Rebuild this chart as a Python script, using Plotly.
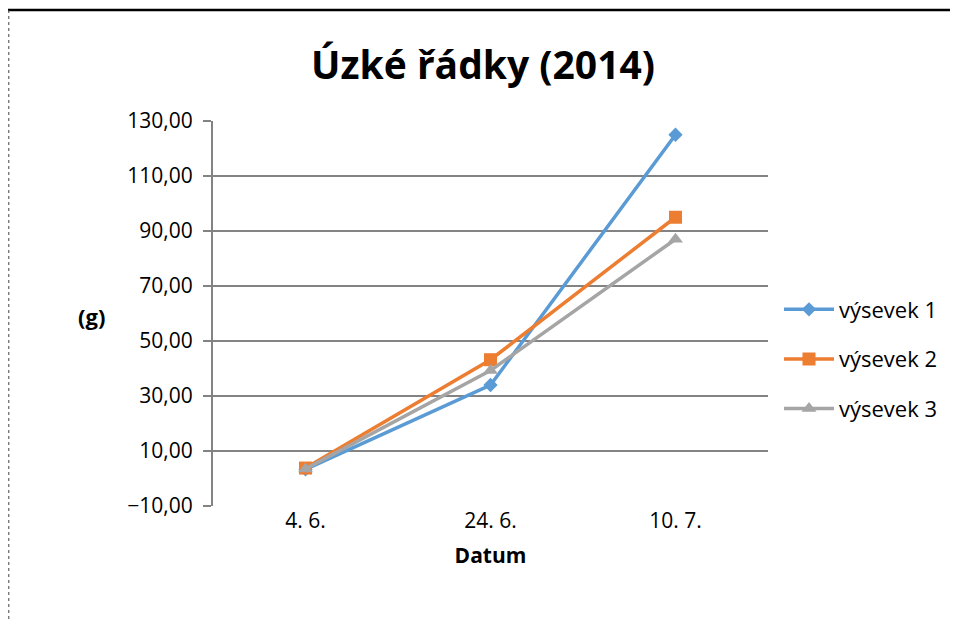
import plotly.graph_objects as go

categories = ["4. 6.", "24. 6.", "10. 7."]
series_names = ["výsevek 1", "výsevek 2", "výsevek 3"]
vysevek1 = [3.3, 34.0, 125.0]
vysevek2 = [3.8, 43.2, 95.0]
vysevek3 = [3.5, 39.3, 87.0]
colors = ["#5B9BD5", "#ED7D31", "#A5A5A5"]
symbols = ["diamond", "square", "triangle-up"]
msizes = [11, 13, 13]

OFF = 8  # page body margin
W, H = 958 - OFF, 619 - OFF
L, T = 213 - OFF, 121 - OFF
pw, ph = 555, 385
R, B = W - L - pw, H - T - ph

def px(x):
    return (x - OFF - L) / pw

def py(y):
    return (H - B - (y - OFF)) / ph

fig = go.Figure()
for i, (name, vals) in enumerate(zip(series_names, [vysevek1, vysevek2, vysevek3])):
    fig.add_trace(go.Scatter(
        x=categories, y=vals, name=name, mode="lines+markers",
        line=dict(color=colors[i], width=3.5),
        marker=dict(symbol=symbols[i], size=msizes[i], color=colors[i]),
        legendgroup=name,
    ))

fig.update_layout(
    width=W, height=H,
    margin=dict(l=L, r=R, t=T, b=B),
    paper_bgcolor="white", plot_bgcolor="white",
    separators=", ",
    font=dict(family="Open Sans, Liberation Sans, sans-serif", size=21, color="#000"),
    title=dict(text="<b>Úzké řádky (2014)</b>", x=0.5, xanchor="center",
               y=1 - (65 - OFF) / H, yanchor="middle",
               font=dict(size=39, family="Open Sans, sans-serif", color="#000")),
    legend=dict(x=px(779), xanchor="left", y=py(359), yanchor="middle",
                traceorder="grouped", tracegroupgap=18,
                font=dict(size=22), itemwidth=50),
    xaxis=dict(showgrid=False, showline=False, ticks="", range=[-0.5, 2.5],
               title=dict(text="<b>Datum</b>", font=dict(size=21), standoff=15),
               tickfont=dict(size=21)),
    yaxis=dict(range=[-10, 130], tick0=-10, dtick=20, tickformat=".2f",
               showgrid=True, gridcolor="#838383", gridwidth=1.5,
               showline=True, linecolor="#838383", linewidth=2.2,
               ticks="outside", ticklen=8, tickcolor="#838383", tickwidth=1.5,
               ticklabelstandoff=6,
               zeroline=False, tickfont=dict(size=21)),
    shapes=[
        dict(type="line", xref="paper", yref="paper", x0=px(5), x1=px(960), y0=py(10), y1=py(10),
             line=dict(color="black", width=2.5)),
        dict(type="line", xref="paper", yref="paper", x0=px(8.8), x1=px(8.8), y0=py(10), y1=py(619),
             line=dict(color="#444", width=1, dash="dot")),
    ],
    annotations=[
        dict(text="<b>(g)</b>", xref="paper", yref="paper", x=px(91), y=py(316),
             xanchor="center", yanchor="middle", showarrow=False, font=dict(size=22)),
    ],
)

fig.write_html("out.html")
